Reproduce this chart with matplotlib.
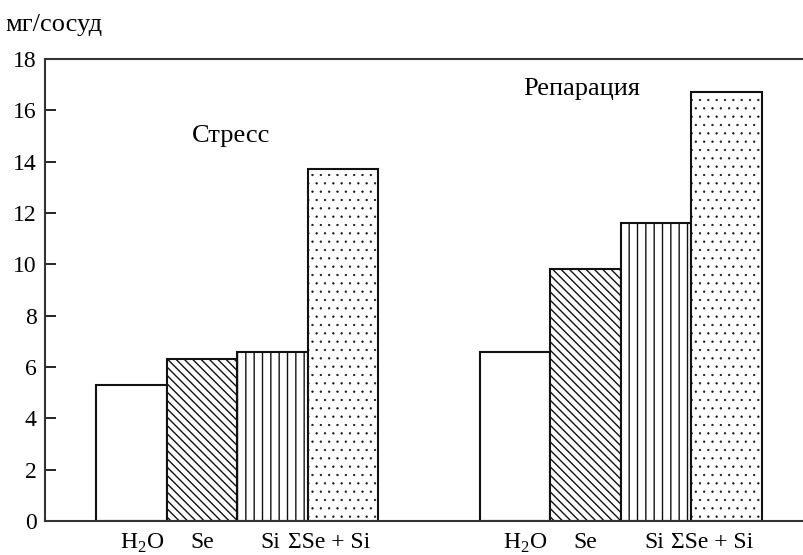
import matplotlib
matplotlib.use('Agg')
import matplotlib.pyplot as plt
import numpy as np

plt.rcParams['font.family'] = ['Liberation Serif', 'DejaVu Serif']
plt.rcParams['font.size'] = 17
plt.rcParams['mathtext.fontset'] = 'custom'
plt.rcParams['mathtext.rm'] = 'Liberation Serif'

# данные
variants = ['H$_2$O', 'Se', 'Si', 'ΣSe + Si']
stress = [5.3, 6.3, 6.6, 13.7]
repair = [6.6, 9.8, 11.6, 16.7]
hatches = ['', '\\\\\\\\', '||', '..']
hatch_lw = [1.0, 1.0, 1.0, 0.4]

fig = plt.figure(figsize=(8.04, 5.55), dpi=100)
ax = fig.add_axes([45 / 804, 1 - 521 / 555, 1 - 45 / 804, (521 - 59) / 555])

x1 = np.arange(4)
x2 = np.arange(4) + 5.44
for xs, vals in [(x1, stress), (x2, repair)]:
    for x, v, h, lw in zip(xs, vals, hatches, hatch_lw):
        with plt.rc_context({'hatch.linewidth': lw}):
            ax.bar(x, v, width=1.0, color='white', edgecolor='#111111',
                   linewidth=1.5, hatch=h, zorder=2)

ax.set_xlim(-1.23, 9.54)
ax.set_ylim(0, 18)
ax.set_yticks(range(0, 19, 2))

# подписи под столбцами немного смещены
shift = [0.15, 0.0, -0.03, -0.2]
ticks = list(x1 + shift) + list(x2 + shift)
ax.set_xticks(ticks)
ax.set_xticklabels(variants * 2)
ax.tick_params(axis='x', length=0, pad=8)
ax.tick_params(axis='y', direction='in', length=8, width=1.2, pad=6)

for s in ['left', 'top', 'bottom']:
    ax.spines[s].set_color('#333333')
    ax.spines[s].set_linewidth(1.5)
ax.spines['right'].set_visible(False)

ax.text(0.86, 14.75, 'Стресс', fontsize=19)
ax.text(5.55, 16.6, 'Репарация', fontsize=19)
fig.text(5 / 804, 1 - 31 / 555, 'мг/сосуд', fontsize=19)

plt.savefig('out.png', dpi=100)
